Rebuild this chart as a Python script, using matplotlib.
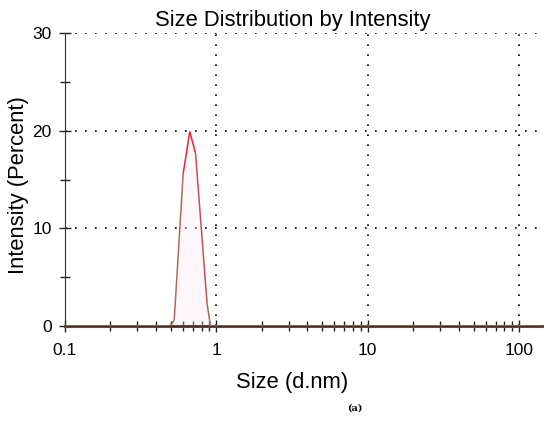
import numpy as np
import matplotlib
matplotlib.use("Agg")
import matplotlib.pyplot as plt
from matplotlib.collections import LineCollection
from matplotlib.colors import LinearSegmentedColormap
from matplotlib.ticker import FixedLocator, LogLocator, NullFormatter

plt.rcParams['font.family'] = ['Liberation Sans', 'DejaVu Sans']

# size (d.nm) and intensity (%)
size = [0.1, 0.2, 0.4, 0.493, 0.527, 0.604, 0.668, 0.729, 0.869, 0.916, 1.0, 10.0, 100.0, 141.0]
intensity = [0, 0, 0, 0, 0.6, 15.6, 19.9, 17.7, 2.3, 0, 0, 0, 0, 0]

x_ticks = [0.1, 1, 10, 100]
x_tick_labels = ['0.1', '1', '10', '100']
y_ticks = [0, 10, 20, 30]

fig = plt.figure(figsize=(5.5, 4.23), dpi=100)
ax = fig.add_axes([0.118, 0.229, 0.867, 0.693])

ax.set_xscale('log')
ax.set_xlim(0.1, 141)
ax.set_ylim(0, 30)

# faint pink fill under the curve
ax.fill_between(size, intensity, color='#fbe6ee', alpha=0.3, lw=0, zorder=1)

# line coloured from olive (low) to red (high)
xs = np.array(size)
ys = np.array(intensity, dtype=float)
pts = np.column_stack([xs, ys]).reshape(-1, 1, 2)
segs = np.concatenate([pts[:-1], pts[1:]], axis=1)
cmap = LinearSegmentedColormap.from_list('dls', ['#8c7560', '#a07868', '#e0303c', '#e8203a'])
lc = LineCollection(segs, cmap=cmap, norm=plt.Normalize(0, 20), lw=1.1, zorder=3)
lc.set_array((ys[:-1] + ys[1:]) / 2)
ax.add_collection(lc)
# baseline
ax.plot(size, [0] * len(size), color='#6b4a40', lw=2.2, zorder=2, clip_on=False)

ax.grid(True, which='major', linestyle=(0, (1, 5)), color='black', lw=1.2)
ax.set_axisbelow(True)

ax.xaxis.set_major_locator(FixedLocator(x_ticks))
ax.set_xticklabels(x_tick_labels)
ax.xaxis.set_minor_locator(LogLocator(base=10, subs=np.arange(2, 10)))
ax.xaxis.set_minor_formatter(NullFormatter())
ax.yaxis.set_major_locator(FixedLocator(y_ticks))
ax.yaxis.set_minor_locator(FixedLocator([5, 15, 25]))

ax.tick_params(which='both', direction='inout', color='#222222', width=1)
ax.tick_params(which='major', length=9, labelsize=12.5)
ax.tick_params(axis='x', which='major', pad=8)
ax.tick_params(axis='y', which='major', pad=5)
ax.tick_params(which='minor', length=7)

for s in ['top', 'right']:
    ax.spines[s].set_visible(False)
ax.spines['left'].set_color('#333333')
ax.spines['bottom'].set_color('#333333')

fig.text(0.532, 0.939, 'Size Distribution by Intensity', fontsize=15.8,
         ha='center', va='baseline')
fig.text(0.532, 0.083, 'Size (d.nm)', fontsize=15.8, ha='center', va='baseline')
fig.text(0.034, 0.563, 'Intensity (Percent)', fontsize=15.8, rotation=90,
         ha='center', va='center')

fig.text(0.645, 0.03, '(a)', family='DejaVu Serif', fontsize=7, fontweight='bold', ha='center')

fig.savefig('out.png', dpi=100, facecolor='white')
